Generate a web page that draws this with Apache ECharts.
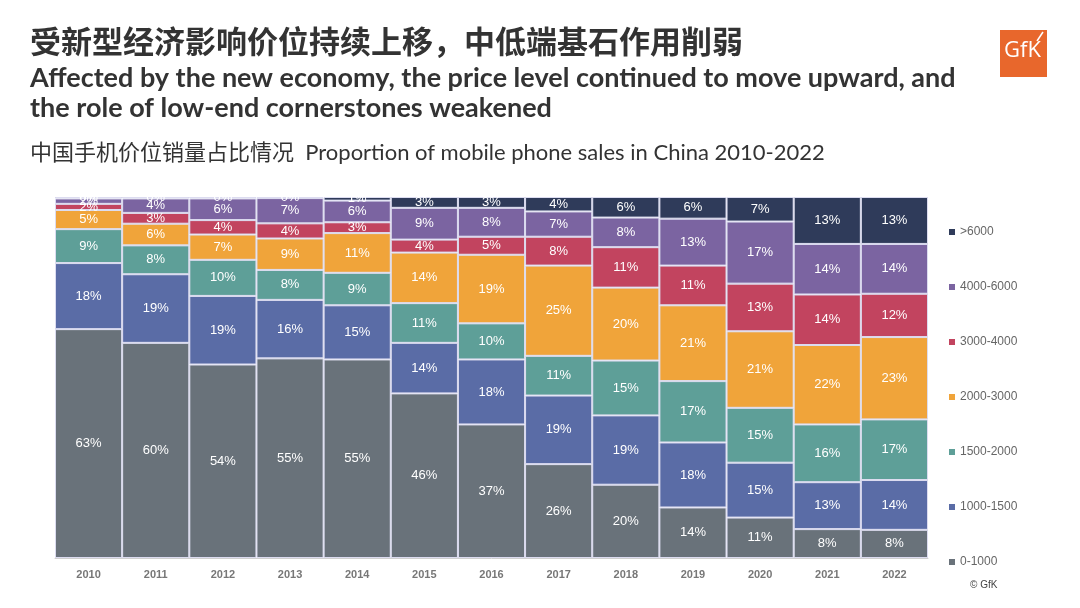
<!DOCTYPE html>
<html>
<head>
<meta charset="utf-8">
<script src="https://cdn.jsdelivr.net/npm/echarts@6/dist/echarts.min.js"></script>
<style>html,body{margin:0;padding:0;background:#fff}#c{width:1080px;height:608px}</style>
</head>
<body>
<div id="c"></div>
<script>
const years = ['2010','2011','2012','2013','2014','2015','2016','2017','2018','2019','2020','2021','2022'];
const seriesNames = ['0-1000','1000-1500','1500-2000','2000-3000','3000-4000','4000-6000','>6000'];
const s0_1000     = [63.4, 59.6, 53.6, 55.3, 55, 45.6, 37, 26, 20.3, 14, 11.2, 8, 7.8];
const s1000_1500  = [18.3, 19, 19, 16.2, 15, 14, 18, 19, 19.2, 18, 15.2, 13, 13.8];
const s1500_2000  = [9.4, 8, 10, 8.3, 9, 11, 10, 11, 15.2, 17, 15.2, 16, 16.8];
const s2000_3000  = [5.3, 6, 7, 8.7, 11, 14, 19, 25, 20.2, 21, 21.2, 22, 22.8];
const s3000_4000  = [1.7, 3, 4, 4.2, 3, 3.6, 5, 8, 11.2, 11, 13.2, 14, 12];
const s4000_6000  = [1.5, 4, 6, 7.0, 6, 8.8, 8, 7, 8.2, 13, 17.2, 14, 13.8];
const s6000plus   = [0.4, 0.4, 0.4, 0.3, 1, 3, 3, 4, 5.7, 6, 6.8, 13, 13];
const allValues = [s0_1000, s1000_1500, s1500_2000, s2000_3000, s3000_4000, s4000_6000, s6000plus];
const colors = ['#69727a','#5a6ca6','#5e9f98','#f0a43a','#c2445f','#7b64a1','#2f3b5a'];

const chart = echarts.init(document.getElementById('c'));
chart.setOption({
  animation: false,
  backgroundColor: '#ffffff',
  grid: { left: 55, right: 152, top: 197, bottom: 50 },
  xAxis: {
    type: 'category', data: years,
    axisLine: { show: true, lineStyle: { color: '#d0d0d0' } },
    axisTick: { show: false },
    axisLabel: { color: '#777', fontSize: 11, fontWeight: 'bold', fontFamily: 'Liberation Sans, Arial', margin: 11 }
  },
  yAxis: { type: 'value', min: 0, max: 100, show: false, splitLine: { show: false } },
  legend: {
    orient: 'vertical', left: 944, top: 220,
    itemWidth: 6, itemHeight: 6, itemGap: 41,
    icon: 'rect',
    itemStyle: { borderWidth: 0 },
    data: seriesNames.slice().reverse(),
    textStyle: { color: '#666', fontSize: 12, fontFamily: 'Liberation Sans, Arial', lineHeight: 14 }
  },
  graphic: [
    { type: 'text', left: 30, top: 26, style: { text: '受新型经济影响价位持续上移，中低端基石作用削弱', fill: '#333', font: 'bold 31px "Noto Sans CJK SC"' } },
    { type: 'text', left: 30, top: 65, style: { text: 'Affected by the new economy, the price level continued to move upward, and', fill: '#333', font: 'bold 27px Lato' } },
    { type: 'text', left: 30, top: 95, style: { text: 'the role of low-end cornerstones weakened', fill: '#333', font: 'bold 27px Lato' } },
    { type: 'text', left: 30, top: 142, style: { text: '中国手机价位销量占比情况  Proportion of mobile phone sales in China 2010-2022', fill: '#333', font: '22px Lato, "Noto Sans CJK SC"' } },
    { type: 'rect', left: 1000, top: 30, shape: { width: 47, height: 47 }, style: { fill: '#e8672c' } },
    { type: 'text', left: 1004, top: 40, style: { text: 'GfK', fill: '#fff', font: '22px "Open Sans"' } },
    { type: 'line', shape: { x1: 1037, y1: 41, x2: 1043, y2: 32 }, style: { stroke: '#fff', lineWidth: 1.5 } },
    { type: 'text', left: 970, top: 580, style: { text: '© GfK', fill: '#444', font: '10px "Liberation Sans"' } }
  ],
  series: seriesNames.map((name, i) => ({
    name: name, type: 'bar', stack: 'total',
    barCategoryGap: 0, barWidth: '100%',
    data: allValues[i],
    itemStyle: { color: colors[i], borderColor: '#dcdcf0', borderWidth: 1 },
    label: {
      show: true, position: 'inside', color: '#fff', fontSize: 13,
      fontFamily: 'Liberation Sans, Arial',
      formatter: p => Math.round(p.value) + '%'
    }
  }))
});
</script>
</body>
</html>
